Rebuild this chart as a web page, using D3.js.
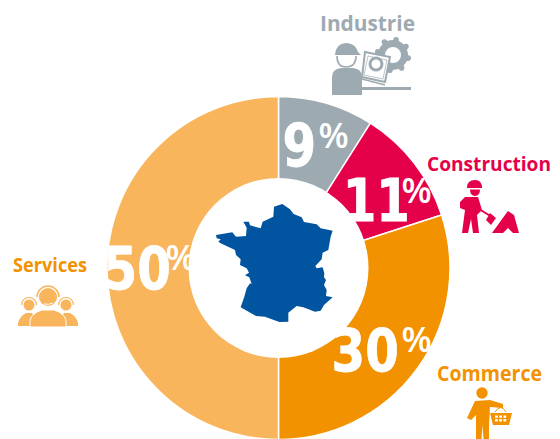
<!DOCTYPE html>
<html>
<head>
<meta charset="utf-8">
<script src="https://cdnjs.cloudflare.com/ajax/libs/d3/7.8.5/d3.min.js"></script>
<style>
  html, body { margin: 0; padding: 0; background: #fff; overflow: hidden; }
  text { font-family: "Open Sans", "Noto Sans", sans-serif; font-weight: 700; }
</style>
</head>
<body>
<svg width="560" height="439"></svg>
<script>
// sectors, clockwise from 12 o'clock
const sectors = ['Industrie', 'Construction', 'Commerce', 'Services']
const shares = [9, 11, 30, 50]
const colours = ['#9eaab1', '#e5004a', '#f39200', '#f8b55c']
const labelColours = ['#9eaab1', '#e5004a', '#f39200', '#f39200']

const svg = d3.select('svg')
const cx = 278.5, cy = 268, outer = 171.5, inner = 90

const graph = svg.append('g').attr('transform', `translate(${cx},${cy})`)

const pie = d3.pie().sort(null)
const arc = d3.arc().innerRadius(0).outerRadius(outer)
const slices = pie(shares)

graph.selectAll('path.slice')
  .data(slices)
  .enter()
  .append('path')
  .attr('class', 'slice')
  .attr('d', arc)
  .attr('fill', (d, i) => colours[i])
  .attr('stroke', '#fff')
  .attr('stroke-width', 1.5)

// big number + small percent sign, placed by hand like the original
const numPos = [[282.6, 166], [342.7, 221], [331.6, 371], [103.5, 289]]
const signPos = [[318.5, 148], [401.5, 203], [401.5, 352], [165.5, 270]]

svg.selectAll('text.num')
  .data(shares)
  .enter()
  .append('text')
  .attr('class', 'num')
  .attr('transform', (d, i) => `translate(${numPos[i][0]},${numPos[i][1]}) scale(0.82,1)`)
  .attr('fill', '#fff')
  .attr('stroke', '#fff')
  .attr('stroke-width', 0.8)
  .attr('font-size', 59)
  .style('font-family', '"DejaVu Sans"')
  .text(d => d)

svg.selectAll('text.sign')
  .data(shares)
  .enter()
  .append('text')
  .attr('class', 'sign')
  .attr('x', (d, i) => signPos[i][0])
  .attr('y', (d, i) => signPos[i][1])
  .attr('fill', '#fff')
  .attr('font-size', 35)
  .style('font-weight', 600)
  .text('%')

// white hole goes over the labels
graph.append('circle').attr('r', inner).attr('fill', '#fff')

// sector names: x, baseline, size, width
const namePos = [[320, 31, 22, 95], [427, 171, 20, 124], [437, 381, 21, 105], [13, 272, 20, 74]]
svg.selectAll('text.name')
  .data(sectors)
  .enter()
  .append('text')
  .attr('class', 'name')
  .attr('x', (d, i) => namePos[i][0])
  .attr('y', (d, i) => namePos[i][1])
  .attr('font-size', (d, i) => namePos[i][2])
  .attr('textLength', (d, i) => namePos[i][3])
  .attr('lengthAdjust', 'spacingAndGlyphs')
  .attr('fill', (d, i) => labelColours[i])
  .text(d => d)

// map of France (traced)
svg.append('path')
  .attr('transform', 'translate(200,190) scale(0.3333)')
  .attr('fill', '#0054a0')
  .attr('d', 'M48,135 L97,127 L108,140 L138,138 L140,113 L130,95 L147,95 L150,106 L182,115 L188,95 L220,80 L222,50 L247,42 L270,58 L281,72 L305,82 L312,96 L350,103 L362,115 L398,122 L392,140 L385,180 L368,188 L365,208 L346,228 L350,235 L368,232 L373,250 L372,262 L378,270 L372,285 L380,300 L378,318 L398,322 L372,345 L362,362 L345,365 L310,352 L290,348 L265,368 L265,395 L238,396 L195,380 L168,378 L122,352 L133,320 L140,295 L150,280 L155,282 L148,262 L135,256 L147,248 L140,235 L120,225 L122,208 L108,195 L105,180 L62,160 L55,155 L62,148 L50,145 Z')

// icons
const grey = colours[0], red = colours[1], orange = colours[2], light = colours[3]

// Industrie: worker with laptop and gear
const ind = svg.append('g').attr('fill', grey)
ind.append('circle').attr('cx', 393).attr('cy', 55).attr('r', 11.5).attr('fill', 'none').attr('stroke', grey).attr('stroke-width', 7)
d3.range(8).forEach(i => {
  const a = i * Math.PI / 4 + 0.2
  ind.append('circle').attr('cx', 393 + 15.5 * Math.cos(a)).attr('cy', 55 + 15.5 * Math.sin(a)).attr('r', 2.8)
})
ind.append('path').attr('fill', '#fff').attr('stroke', grey).attr('stroke-width', 2).attr('d', 'M365,52 L390,57 L385,82 L362,77 Z')
ind.append('path').attr('d', 'M368,56 L387,60 L383,79 L364,75 Z').attr('fill', 'none').attr('stroke', grey).attr('stroke-width', 0.7)
ind.append('circle').attr('cx', 376).attr('cy', 64).attr('r', 6).attr('fill', 'none').attr('stroke', grey).attr('stroke-width', 3)
ind.append('path').attr('fill', 'none').attr('stroke', grey).attr('stroke-width', 1.5).attr('d', 'M362,79 L385,85')
ind.append('path').attr('d', 'M332,95 L332,77 Q332,69 341,68 L353,68 Q362,69 362,77 L362,95 Z')
ind.append('path').attr('d', 'M335,55 Q336,43 347,43 Q356,44 358,52 L361,55 Z')
ind.append('path').attr('fill', 'none').attr('stroke', grey).attr('stroke-width', 1.6).attr('d', 'M337,56 Q337,67 346,67 Q356,67 356,56')
ind.append('rect').attr('x', 362).attr('y', 87).attr('width', 49).attr('height', 3)

// Construction: worker with shovel and pile
const con = svg.append('g').attr('fill', red)
con.append('path').attr('d', 'M467,188 Q467,180 475,180 Q482,180 482,188 Z')
con.append('path').attr('d', 'M470,189.5 L480,189.5 Q480,196 475,196 Q470,196 470,189.5 Z')
con.append('path').attr('d', 'M460,202 L465,197 L478,197 L482,210 L477,215 L479,233 L473,233 L471,219 L468,233 L462,233 L465,210 L460,208 Z')
con.append('path').attr('fill', 'none').attr('stroke', red).attr('stroke-width', 2).attr('d', 'M479,209 L492,217')
con.append('path').attr('d', 'M490,213 L496,218 L491,225 L486,220 Z')
con.append('path').attr('d', 'M492,233 L505,215 L508,211 L514,215 L519,233 L513,233 L508,228 L503,233 Z')

// Commerce: person with basket
const com = svg.append('g').attr('fill', orange)
com.append('circle').attr('cx', 482).attr('cy', 393).attr('r', 5.7)
com.append('path').attr('d', 'M475,401 L490,400 L503,404 L503,408 L490,407 L489,425 L489,439 L483.5,439 L482.5,425 L481.5,439 L476,439 L476,415 L471,420 L467,418 Z')
com.append('path').attr('d', 'M490,413 L512,413 L509,425 L493,425 Z')
com.append('path').attr('fill', 'none').attr('stroke', orange).attr('stroke-width', 1).attr('d', 'M495,412 Q501,403 506,412')
d3.range(3).forEach(i => {
  d3.range(2).forEach(j => {
    com.append('rect').attr('x', 495 + i * 4.2).attr('y', 415.5 + j * 3.6).attr('width', 2.8).attr('height', 2.4).attr('fill', '#fff')
  })
})

// Services: three headset agents
const srv = svg.append('g').attr('fill', light)
const agent = (x, y, r) => {
  srv.append('circle').attr('cx', x).attr('cy', y).attr('r', r)
  srv.append('path').attr('fill', 'none').attr('stroke', light).attr('stroke-width', r > 8 ? 1.5 : 1.2)
    .attr('d', `M${x - r - 2},${y} A${r + 2},${r + 2} 0 0 1 ${x + r + 2},${y}`)
}
srv.append('path').attr('d', 'M18,323 Q20,316 26,313 L32,313 L40,326 L18,326 Z')
srv.append('path').attr('d', 'M78,323 Q76,316 70,313 L64,313 L56,326 L78,326 Z')
agent(29, 305, 5.5)
agent(66, 305, 5.5)
srv.append('path').attr('d', 'M30,327 L30,320 Q32,313 42,310 L54,310 Q64,313 66,320 L66,327 Z').attr('stroke', '#fff').attr('stroke-width', 1)
srv.append('circle').attr('cx', 48).attr('cy', 297).attr('r', 11.5).attr('fill', '#fff')
agent(48, 297, 9)
srv.append('path').attr('fill', 'none').attr('stroke', '#fff').attr('stroke-width', 1).attr('d', 'M44,304 Q49,305 53,303')
</script>
</body>
</html>
